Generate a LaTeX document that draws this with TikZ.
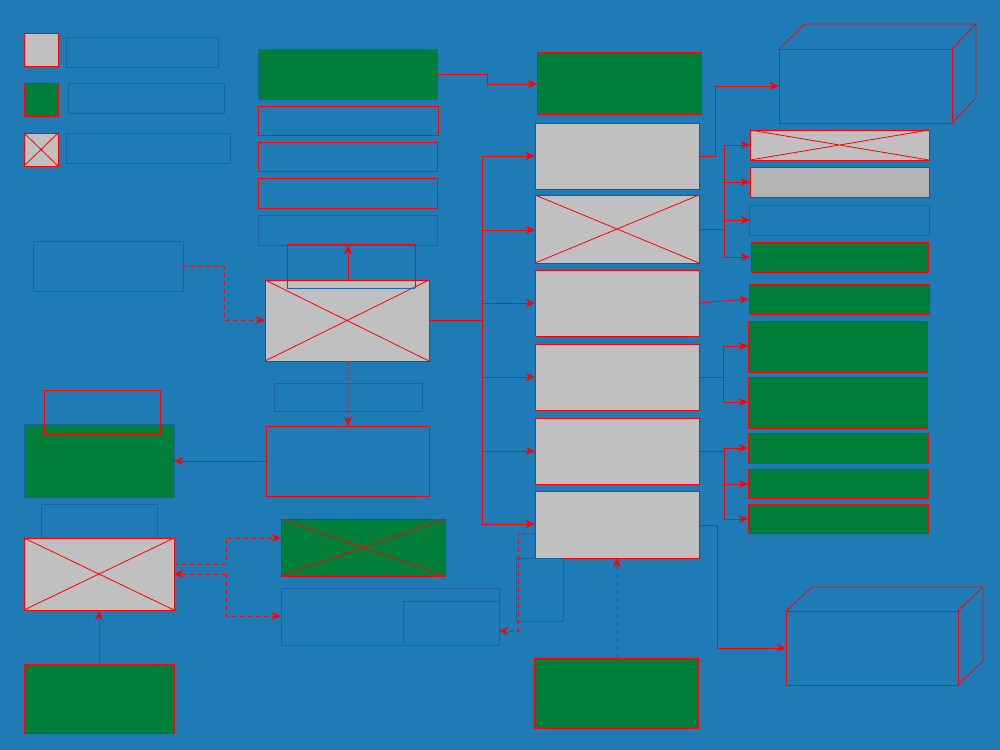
\documentclass[tikz,border=0pt]{standalone}
\usetikzlibrary{arrows.meta}
\definecolor{bg}{HTML}{1F7BB6}
\definecolor{gr}{HTML}{007F3A}
\definecolor{gy}{HTML}{C0C0C0}
\definecolor{gy2}{HTML}{B3B3B3}
\definecolor{bl}{HTML}{1A63A0}
\begin{document}
\begin{tikzpicture}[x=0.75pt,y=-0.75pt,line width=0.6pt,
 rb/.style={draw=red},bb/.style={draw=bl},
 arr/.style={draw=red,-{Stealth[length=7pt,width=6pt,color=red]}},
 darr/.style={arr,dashed}]
\fill[bg] (0,0) rectangle (1000,750);
\useasboundingbox (0,0) rectangle (1000,750);
\newcommand{\xbox}[5]{\path[fill=#5,draw=red] (#1,#2) rectangle (#3,#4); \draw[red] (#1,#2)--(#3,#4) (#1,#4)--(#3,#2);}
% legend
\path[fill=gy,rb] (24,33) rectangle (58,66); \path[bb] (66,37) rectangle (218,67);
\path[fill=gr,rb] (24,83) rectangle (58,116); \path[bb] (68,83) rectangle (224,113);
\xbox{24}{133}{58}{166}{gy} \path[bb] (66,133) rectangle (230,163);
% column 2
\path[fill=gr,bb] (258,49) rectangle (437,99);
\path[rb] (258,106) rectangle (438,135);
\path[rb] (258,142) rectangle (437,171);
\path[rb] (258,178) rectangle (437,208);
\path[bb] (258,215) rectangle (437,245);
\xbox{265}{280}{429}{361}{gy}
\path[draw=red] (287,288) -- (287,244) -- (415,244) -- (415,288);
\path[bb] (287,288) -- (415,288);
\coordinate (ct) at (348,280); \coordinate (st) at (348,245);
\draw[arr] (ct) -- (st);
\path[bb] (33,241) rectangle (183,291);
\draw[darr] (183,266) -- (224,266) -- (224,320) -- (265,320);
\path[bb] (274,383) rectangle (422,411);
\draw[darr,draw=red!70!bl] (348,361) -- (348,426);
\path[rb] (266,426) rectangle (429,496);
\path[fill=gr,bb] (24,424) rectangle (174,497);
\path[rb] (44,390) rectangle (160,434);
\draw[arr] (266,461) -- (174,461);
\path[bb] (41,504) rectangle (157,547);
\xbox{24}{538}{174}{610}{gy}
\path[fill=gr,rb] (24,664) rectangle (174,733);
\draw[arr,draw=bl] (99,664) -- (99,611);
\draw[darr] (174,564) -- (226,564) -- (226,538) -- (281,538);
\draw[darr] (226,574) -- (174,574);
\draw[darr] (226,574) -- (226,616) -- (281,616);
\xbox{281}{519}{445}{576}{gr}
\path[bb] (281,588) rectangle (499,645);
\path[bb] (403,601) rectangle (499,645);
% column 3
\path[fill=gr,rb] (537,52) rectangle (701,114);
\draw[arr] (437,74) -- (487,74) -- (487,84) -- (537,84);
\path[fill=gy,rb] (535,123) rectangle (699,189);
\xbox{535}{195}{699}{263}{gy}
\path[fill=gy,rb] (535,270) rectangle (699,336);
\path[fill=gy,rb] (535,344) rectangle (699,410);
\path[fill=gy,rb] (535,418) rectangle (699,484);
\path[fill=gy,rb] (535,491) rectangle (699,558);
\draw[red] (429,320) -- (482,320) (482,156) -- (482,524);
\foreach \y in {156,230,303,377,451,524} \draw[arr] (482,\y) -- (535,\y);
\path[bb] (516,558) rectangle (563,621);
\draw[darr] (535,533) -- (518,533) -- (518,631) -- (499,631);
\path[fill=gr,rb] (534,658) rectangle (698,728);
\draw[darr] (617,658) -- (617,558);
% right 3D boxes
\path[rb] (779,49) rectangle (952,123);
\draw[red] (779,49) -- (805,24) -- (976,24) -- (976,98) -- (952,123) (952,49) -- (976,24);
\draw[arr] (699,156) -- (715,156) -- (715,86) -- (779,86);
\path[rb] (786,611) rectangle (958,685);
\draw[red] (786,611) -- (812,587) -- (983,587) -- (983,661) -- (958,685) (958,611) -- (983,587);
\draw[arr] (699,525) -- (717,525) -- (717,648) -- (786,648);
% right column
\xbox{750}{130}{929}{160}{gy}
\path[fill=gy2,rb] (750,167) rectangle (929,197);
\path[bb] (749,205) rectangle (929,235);
\path[fill=gr,rb] (751,242) rectangle (928,272);
\path[fill=gr,rb] (749,284) rectangle (929,314);
\path[fill=gr,rb] (748,321) rectangle (927,372);
\path[fill=gr,rb] (748,377) rectangle (927,428);
\path[fill=gr,rb] (748,433) rectangle (928,463);
\path[fill=gr,rb] (748,469) rectangle (928,498);
\path[fill=gr,rb] (748,504) rectangle (928,533);
\draw[red] (699,229) -- (724,229) (724,145) -- (724,257);
\foreach \y in {145,182,220,257} \draw[arr] (724,\y) -- (750,\y);
\draw[arr] (699,303) -- (749,299);
\draw[red] (699,377) -- (723,377) (723,346) -- (723,402);
\foreach \y in {346,402} \draw[arr] (723,\y) -- (748,\y);
\draw[red] (699,451) -- (724,451) (724,448) -- (724,519);
\foreach \y in {448,484,519} \draw[arr] (724,\y) -- (748,\y);
\end{tikzpicture}
\end{document}
